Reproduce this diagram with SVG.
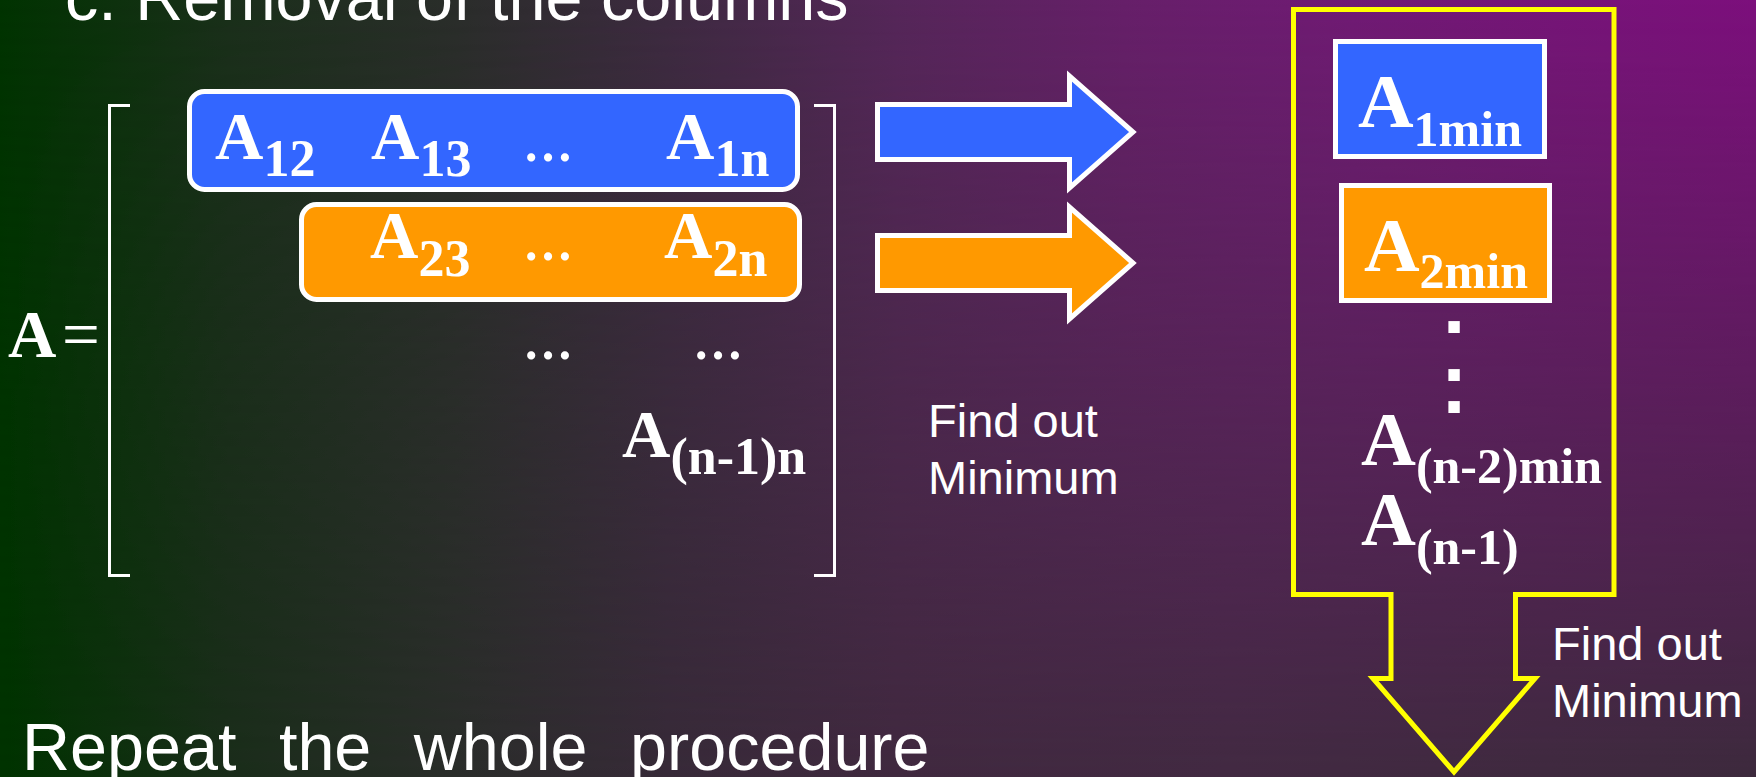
<svg xmlns="http://www.w3.org/2000/svg" width="1756" height="777" viewBox="0 0 1756 777">
<defs>
<style>
.t{font-family:"Liberation Sans",Arial,sans-serif;fill:#fff}
.m{font-family:"Liberation Serif","Times New Roman",serif;font-weight:bold;fill:#fff}
.blue{fill:#3366ff;stroke:#fff;stroke-width:5}
.orange{fill:#ff9900;stroke:#fff;stroke-width:5}
.br{fill:none;stroke:#fff;stroke-width:3}
</style>
<linearGradient id="gTop" x1="0" y1="0" x2="1756" y2="0" gradientUnits="userSpaceOnUse">
<stop offset="0" stop-color="#003300"/>
<stop offset="0.13" stop-color="#1a2f1a"/>
<stop offset="0.26" stop-color="#2a2d2a"/>
<stop offset="0.38" stop-color="#3d2a40"/>
<stop offset="0.51" stop-color="#552659"/>
<stop offset="0.64" stop-color="#661f69"/>
<stop offset="0.77" stop-color="#701a74"/>
<stop offset="1" stop-color="#7c0f7c"/>
</linearGradient>
<linearGradient id="gBot" x1="0" y1="0" x2="1756" y2="0" gradientUnits="userSpaceOnUse">
<stop offset="0" stop-color="#003300"/>
<stop offset="0.13" stop-color="#1a2d1a"/>
<stop offset="0.26" stop-color="#2a2d2a"/>
<stop offset="0.38" stop-color="#372a38"/>
<stop offset="0.51" stop-color="#40293f"/>
<stop offset="0.7" stop-color="#422a42"/>
<stop offset="1" stop-color="#3d2a3d"/>
</linearGradient>
<linearGradient id="gFade" x1="0" y1="0" x2="0" y2="777" gradientUnits="userSpaceOnUse">
<stop offset="0" stop-color="#fff"/>
<stop offset="1" stop-color="#000"/>
</linearGradient>
<mask id="mFade" maskUnits="userSpaceOnUse" x="0" y="0" width="1756" height="777">
<rect width="1756" height="777" fill="url(#gFade)"/>
</mask>
</defs>

<g id="background">
<rect width="1756" height="777" fill="url(#gBot)"/>
<rect width="1756" height="777" fill="url(#gTop)" mask="url(#mFade)"/>
</g>

<g id="title">
<text class="t" x="65" y="20" font-size="66.5">c. Removal of the columns</text>
</g>

<g id="matrix">
<text class="m" x="8" y="357" font-size="67">A</text>
<text x="62" y="357" font-size="67" font-family="Liberation Serif,Times New Roman,serif" fill="#fff">=</text>
<path class="br" d="M130,105.5 H109.5 V575.5 H130"/>
<path class="br" d="M814,105.5 H834.5 V575.5 H814"/>
</g>

<g id="row1">
<rect class="blue" x="189.5" y="91.5" width="608" height="98" rx="15"/>
<text class="m" x="215" y="159" font-size="67">A<tspan font-size="52" dy="17">12</tspan></text>
<text class="m" x="371" y="159" font-size="67">A<tspan font-size="52" dy="17">13</tspan></text>
<text class="m" x="548" y="161" font-size="50" text-anchor="middle">…</text>
<text class="m" x="666" y="159" font-size="67">A<tspan font-size="52" dy="17">1n</tspan></text>
</g>

<g id="row2">
<rect class="orange" x="301.5" y="204.5" width="498" height="95" rx="15"/>
<text class="m" x="370" y="258" font-size="67">A<tspan font-size="52" dy="18">23</tspan></text>
<text class="m" x="548" y="260" font-size="50" text-anchor="middle">…</text>
<text class="m" x="664" y="258" font-size="67">A<tspan font-size="52" dy="18">2n</tspan></text>
</g>

<g id="row3">
<text class="m" x="548" y="359" font-size="50" text-anchor="middle">…</text>
<text class="m" x="718" y="359" font-size="50" text-anchor="middle">…</text>
<text class="m" x="622" y="457" font-size="67">A<tspan font-size="52" dy="17">(n-1)n</tspan></text>
</g>

<g id="label-find-min-1">
<text class="t" x="928" y="437" font-size="47">Find out</text>
<text class="t" x="928" y="494" font-size="47">Minimum</text>
</g>

<g id="result-column">
<polygon points="1293.5,9.5 1614,9.5 1614,594.5 1515.5,594.5 1515.5,678.5 1535,678.5 1454,772 1373,678.5 1391,678.5 1391,594.5 1293.5,594.5" fill="none" stroke="#ffff00" stroke-width="5"/>
</g>

<g id="a1min">
<rect class="blue" x="1335.5" y="41.5" width="209" height="115"/>
<text class="m" x="1358" y="127" font-size="77">A<tspan font-size="50" dy="19">1min</tspan></text>
</g>

<g id="a2min">
<rect class="orange" x="1341.5" y="185.5" width="208" height="115"/>
<text class="m" x="1364" y="271" font-size="77">A<tspan font-size="50" dy="17">2min</tspan></text>
</g>

<g id="vdots">
<text class="t" font-weight="bold" font-size="80" text-anchor="middle" x="1454" y="333">.</text>
<text class="t" font-weight="bold" font-size="80" text-anchor="middle" x="1454" y="381">.</text>
<text class="t" font-weight="bold" font-size="80" text-anchor="middle" x="1454" y="413">.</text>
</g>

<g id="an2min">
<text class="m" x="1361" y="465" font-size="76">A<tspan font-size="50" dy="18">(n-2)min</tspan></text>
</g>

<g id="an1">
<text class="m" x="1361" y="545" font-size="76">A<tspan font-size="50" dy="19">(n-1)</tspan></text>
</g>

<g id="label-find-min-2">
<text class="t" x="1552" y="660" font-size="47">Find out</text>
<text class="t" x="1552" y="717" font-size="47">Minimum</text>
</g>

<g id="connectors">
<polygon class="blue" points="877.5,104.5 1069.5,104.5 1069.5,76 1133,132 1069.5,188 1069.5,159.5 877.5,159.5"/>
<polygon class="orange" points="877.5,235.5 1069.5,235.5 1069.5,207 1133,263 1069.5,319 1069.5,290.5 877.5,290.5"/>
</g>

<g id="footer">
<text class="t" x="22" y="770" font-size="66.5" word-spacing="24">Repeat the whole procedure</text>
</g>
</svg>
